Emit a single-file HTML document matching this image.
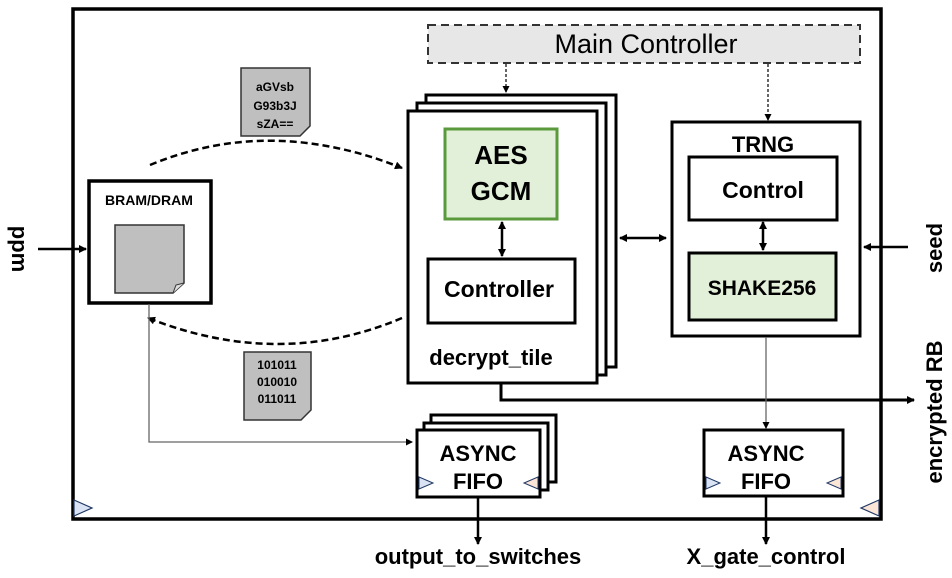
<!DOCTYPE html>
<html><head><meta charset="utf-8"><style>
html,body{margin:0;padding:0;background:#fff;}
svg{display:block;}
text{font-family:"Liberation Sans",sans-serif;}
</style></head><body>
<svg width="952" height="578" viewBox="0 0 952 578" xmlns="http://www.w3.org/2000/svg">
<defs>
<marker id="ah" markerWidth="8" markerHeight="8" refX="7" refY="4" orient="auto" markerUnits="userSpaceOnUse"><path d="M0,0 L8,4 L0,8 z" fill="#000"/></marker>
<marker id="as" markerWidth="8" markerHeight="8" refX="1" refY="4" orient="auto" markerUnits="userSpaceOnUse"><path d="M8,0 L0,4 L8,8 z" fill="#000"/></marker>
<marker id="ahs" markerWidth="7" markerHeight="7" refX="6" refY="3.5" orient="auto" markerUnits="userSpaceOnUse"><path d="M0,0 L7,3.5 L0,7 z" fill="#000"/></marker>
</defs>
<rect x="73" y="9" width="808" height="510" fill="#fff" stroke="#000" stroke-width="3.5"/>
<polygon points="74,500 92,508 74,516" fill="#dae3f3" stroke="#203864" stroke-width="1.2"/>
<polygon points="879,500 861,508 879,516" fill="#fbe5d6" stroke="#203864" stroke-width="1.2"/>

<rect x="428" y="25" width="432" height="38" fill="#e7e7e7" stroke="#333" stroke-width="2" stroke-dasharray="8,5"/>
<text x="646" y="53" font-size="27" text-anchor="middle">Main Controller</text>
<line x1="506" y1="64" x2="506" y2="92" stroke="#000" stroke-width="1.2" stroke-dasharray="3,2" marker-end="url(#ahs)"/>
<line x1="768" y1="64" x2="768" y2="120" stroke="#000" stroke-width="1.2" stroke-dasharray="3,2" marker-end="url(#ahs)"/>

<rect x="426" y="95" width="190" height="272" fill="#fff" stroke="#000" stroke-width="3"/>
<rect x="417" y="103" width="189" height="272" fill="#fff" stroke="#000" stroke-width="3"/>
<rect x="408" y="111" width="189" height="272" fill="#fff" stroke="#000" stroke-width="3"/>
<rect x="445" y="129" width="112" height="90" fill="#e2f0d9" stroke="#5a9a3c" stroke-width="3"/>
<text x="501" y="164" font-size="26" font-weight="bold" text-anchor="middle">AES</text>
<text x="501" y="200" font-size="26" font-weight="bold" text-anchor="middle">GCM</text>
<line x1="502" y1="222" x2="502" y2="256" stroke="#000" stroke-width="2.5" marker-start="url(#as)" marker-end="url(#ah)"/>
<rect x="428" y="259" width="147" height="64" fill="#fff" stroke="#000" stroke-width="3"/>
<text x="499" y="297" font-size="23" font-weight="bold" text-anchor="middle">Controller</text>
<text x="491" y="365" font-size="22" font-weight="bold" text-anchor="middle">decrypt_tile</text>

<rect x="89" y="181" width="122" height="122" fill="#fff" stroke="#000" stroke-width="3.5"/>
<text x="149" y="205" font-size="14" font-weight="bold" text-anchor="middle">BRAM/DRAM</text>
<path d="M115,225 L184,225 L184,283 L173,293 L115,293 z" fill="#bfbfbf" stroke="#333" stroke-width="1.5"/>
<path d="M184,283 L176,285 L173,293" fill="#ddd" stroke="#333" stroke-width="1"/>
<line x1="38" y1="249" x2="86" y2="249" stroke="#000" stroke-width="2.5" marker-end="url(#ah)"/>
<text transform="translate(12,249) rotate(90)" font-size="22" font-weight="bold" text-anchor="middle">ppm</text>

<path d="M150,165 Q270,115 402,168" fill="none" stroke="#000" stroke-width="2.5" stroke-dasharray="7,4" marker-end="url(#ah)"/>
<path d="M402,318 Q280,370 148,318" fill="none" stroke="#000" stroke-width="2.5" stroke-dasharray="7,4" marker-end="url(#ah)"/>
<path d="M241,68 L310,68 L310,126 L300,136 L241,136 z" fill="#bfbfbf" stroke="#333" stroke-width="1.5"/>
<text x="275" y="91" font-size="12" font-weight="bold" text-anchor="middle">aGVsb</text>
<text x="275" y="110" font-size="12" font-weight="bold" text-anchor="middle">G93b3J</text>
<text x="275" y="128" font-size="12" font-weight="bold" text-anchor="middle">sZA==</text>
<path d="M244,352 L311,352 L311,410 L301,420 L244,420 z" fill="#bfbfbf" stroke="#333" stroke-width="1.5"/>
<text x="277" y="369" font-size="12" font-weight="bold" text-anchor="middle">101011</text>
<text x="277" y="386" font-size="12" font-weight="bold" text-anchor="middle">010010</text>
<text x="277" y="403" font-size="12" font-weight="bold" text-anchor="middle">011011</text>

<rect x="672" y="122" width="188" height="214" fill="#fff" stroke="#000" stroke-width="3"/>
<text x="763" y="152" font-size="22" font-weight="bold" text-anchor="middle">TRNG</text>
<rect x="689" y="157" width="148" height="63" fill="#fff" stroke="#000" stroke-width="3"/>
<text x="763" y="198" font-size="23" font-weight="bold" text-anchor="middle">Control</text>
<line x1="763" y1="222" x2="763" y2="250" stroke="#000" stroke-width="2.5" marker-start="url(#as)" marker-end="url(#ah)"/>
<rect x="689" y="253" width="147" height="67" fill="#e2f0d9" stroke="#000" stroke-width="3"/>
<text x="762" y="295" font-size="21" font-weight="bold" text-anchor="middle">SHAKE256</text>
<line x1="620" y1="238" x2="666" y2="238" stroke="#000" stroke-width="2.5" marker-start="url(#as)" marker-end="url(#ah)"/>
<line x1="908" y1="247" x2="864" y2="247" stroke="#000" stroke-width="2.5" marker-end="url(#ah)"/>
<text transform="translate(942,248) rotate(-90)" font-size="22" font-weight="bold" text-anchor="middle">seed</text>

<polyline points="501,383 501,400 914,400" fill="none" stroke="#000" stroke-width="3" marker-end="url(#ah)"/>
<text transform="translate(942,412) rotate(-90)" font-size="22" font-weight="bold" text-anchor="middle">encrypted RB</text>

<line x1="766" y1="337" x2="766" y2="428" stroke="#666" stroke-width="1.3" marker-end="url(#ahs)"/>
<polyline points="149,304 149,442 412,442" fill="none" stroke="#666" stroke-width="1.3" marker-end="url(#ahs)"/>

<rect x="431" y="415" width="125" height="67" fill="#fff" stroke="#000" stroke-width="3"/>
<rect x="424" y="423" width="124" height="67" fill="#fff" stroke="#000" stroke-width="3"/>
<rect x="417" y="430" width="123" height="67" fill="#fff" stroke="#000" stroke-width="3"/>
<text x="478" y="461" font-size="22" font-weight="bold" text-anchor="middle">ASYNC</text>
<text x="478" y="489" font-size="22" font-weight="bold" text-anchor="middle">FIFO</text>
<polygon points="419,477 433,483 419,489" fill="#dae3f3" stroke="#203864" stroke-width="1"/>
<polygon points="538,477 524,483 538,489" fill="#fbe5d6" stroke="#203864" stroke-width="1"/>
<line x1="478" y1="498" x2="478" y2="544" stroke="#000" stroke-width="2.5" marker-end="url(#ah)"/>
<text x="478" y="564" font-size="22" font-weight="bold" text-anchor="middle">output_to_switches</text>

<rect x="704" y="430" width="139" height="66" fill="#fff" stroke="#000" stroke-width="3"/>
<text x="766" y="461" font-size="22" font-weight="bold" text-anchor="middle">ASYNC</text>
<text x="766" y="489" font-size="22" font-weight="bold" text-anchor="middle">FIFO</text>
<polygon points="706,477 720,483 706,489" fill="#dae3f3" stroke="#203864" stroke-width="1"/>
<polygon points="841,477 827,483 841,489" fill="#fbe5d6" stroke="#203864" stroke-width="1"/>
<line x1="766" y1="497" x2="766" y2="544" stroke="#000" stroke-width="2.5" marker-end="url(#ah)"/>
<text x="766" y="564" font-size="22" font-weight="bold" text-anchor="middle">X_gate_control</text>
</svg>
</body></html>
